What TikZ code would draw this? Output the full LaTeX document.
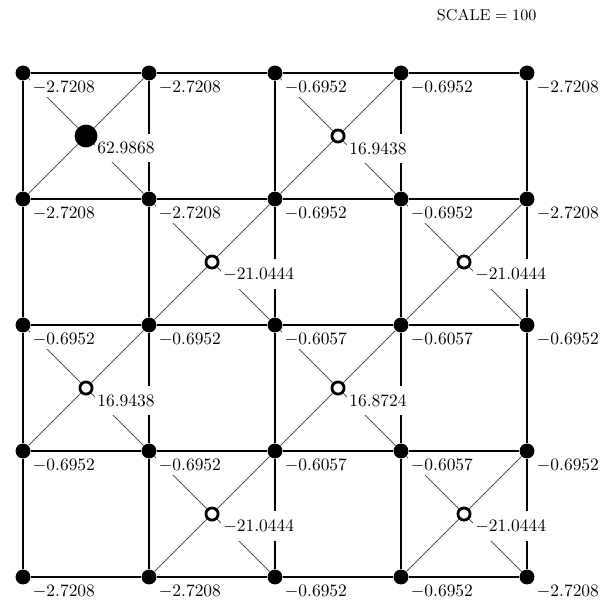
\documentclass[tikz,border=0pt]{standalone}
\usepackage{amsmath,amssymb}
\usepackage{xcolor}
\usepackage{tikz}
\usetikzlibrary{positioning}
\definecolor{DiagGray}{HTML}{5A5A5A}
\pgfdeclarelayer{bg}
\pgfdeclarelayer{fg}
\pgfsetlayers{bg,main,fg}

\begin{document}
\begin{tikzpicture}[
        x=2.54cm,y=2.54cm,
        every node/.style={font=\normalsize},
        dot/.style={circle,fill=black,inner sep=0pt,minimum size=3mm},
        bigdot/.style={circle,fill=black,inner sep=0pt,minimum size=4.6mm},
        hole/.style={circle,draw=black,fill=white,line width=1.6pt,inner sep=0pt,minimum size=2.45mm},
        val/.style={fill=white,inner sep=1.5pt},
        cval/.style={fill=white,inner xsep=1.5pt,inner ysep=5pt},
        edge/.style={line width=0.65pt,draw=black},
        diag/.style={line width=0.45pt,draw=DiagGray}
      ]
      \useasboundingbox (-0.1826,-0.1746) rectangle (4.7063,4.5795);

      \node[font=\small] (scale) at (3.68,4.46) {SCALE${}={}$100};

      % grid points and centres
      \begin{pgfonlayer}{fg}
      \node[dot] (v04) at (0,4) {};
      \node[dot] (v14) at (1,4) {};
      \node[dot] (v24) at (2,4) {};
      \node[dot] (v34) at (3,4) {};
      \node[dot] (v44) at (4,4) {};
      \node[dot] (v03) at (0,3) {};
      \node[dot] (v13) at (1,3) {};
      \node[dot] (v23) at (2,3) {};
      \node[dot] (v33) at (3,3) {};
      \node[dot] (v43) at (4,3) {};
      \node[dot] (v02) at (0,2) {};
      \node[dot] (v12) at (1,2) {};
      \node[dot] (v22) at (2,2) {};
      \node[dot] (v32) at (3,2) {};
      \node[dot] (v42) at (4,2) {};
      \node[dot] (v01) at (0,1) {};
      \node[dot] (v11) at (1,1) {};
      \node[dot] (v21) at (2,1) {};
      \node[dot] (v31) at (3,1) {};
      \node[dot] (v41) at (4,1) {};
      \node[dot] (v00) at (0,0) {};
      \node[dot] (v10) at (1,0) {};
      \node[dot] (v20) at (2,0) {};
      \node[dot] (v30) at (3,0) {};
      \node[dot] (v40) at (4,0) {};

      \node[bigdot] (c03) at (0.5,3.5) {};
      \node[hole] (c23) at (2.5,3.5) {};
      \node[hole] (c12) at (1.5,2.5) {};
      \node[hole] (c32) at (3.5,2.5) {};
      \node[hole] (c01) at (0.5,1.5) {};
      \node[hole] (c21) at (2.5,1.5) {};
      \node[hole] (c10) at (1.5,0.5) {};
      \node[hole] (c30) at (3.5,0.5) {};
      \end{pgfonlayer}

      % values at the grid points
      \node[val,below right=0.11cm and 0.14cm of v04.center] (l04) {$-2.7208$};
      \node[val,below right=0.11cm and 0.14cm of v14.center] (l14) {$-2.7208$};
      \node[val,below right=0.11cm and 0.14cm of v24.center] (l24) {$-0.6952$};
      \node[val,below right=0.11cm and 0.14cm of v34.center] (l34) {$-0.6952$};
      \node[val,below right=0.11cm and 0.14cm of v44.center] (l44) {$-2.7208$};
      \node[val,below right=0.11cm and 0.14cm of v03.center] (l03) {$-2.7208$};
      \node[val,below right=0.11cm and 0.14cm of v13.center] (l13) {$-2.7208$};
      \node[val,below right=0.11cm and 0.14cm of v23.center] (l23) {$-0.6952$};
      \node[val,below right=0.11cm and 0.14cm of v33.center] (l33) {$-0.6952$};
      \node[val,below right=0.11cm and 0.14cm of v43.center] (l43) {$-2.7208$};
      \node[val,below right=0.11cm and 0.14cm of v02.center] (l02) {$-0.6952$};
      \node[val,below right=0.11cm and 0.14cm of v12.center] (l12) {$-0.6952$};
      \node[val,below right=0.11cm and 0.14cm of v22.center] (l22) {$-0.6057$};
      \node[val,below right=0.11cm and 0.14cm of v32.center] (l32) {$-0.6057$};
      \node[val,below right=0.11cm and 0.14cm of v42.center] (l42) {$-0.6952$};
      \node[val,below right=0.11cm and 0.14cm of v01.center] (l01) {$-0.6952$};
      \node[val,below right=0.11cm and 0.14cm of v11.center] (l11) {$-0.6952$};
      \node[val,below right=0.11cm and 0.14cm of v21.center] (l21) {$-0.6057$};
      \node[val,below right=0.11cm and 0.14cm of v31.center] (l31) {$-0.6057$};
      \node[val,below right=0.11cm and 0.14cm of v41.center] (l41) {$-0.6952$};
      \node[val,below right=0.11cm and 0.14cm of v00.center] (l00) {$-2.7208$};
      \node[val,below right=0.11cm and 0.14cm of v10.center] (l10) {$-2.7208$};
      \node[val,below right=0.11cm and 0.14cm of v20.center] (l20) {$-0.6952$};
      \node[val,below right=0.11cm and 0.14cm of v30.center] (l30) {$-0.6952$};
      \node[val,below right=0.11cm and 0.14cm of v40.center] (l40) {$-2.7208$};

      % values at the centres
      \node[cval,below right=0.24cm and 0.17cm of c03.center,anchor=west] (k03) {$62.9868$};
      \node[cval,below right=0.25cm and 0.17cm of c23.center,anchor=west] (k23) {$16.9438$};
      \node[cval,below right=0.25cm and 0.17cm of c12.center,anchor=west] (k12) {$-21.0444$};
      \node[cval,below right=0.25cm and 0.17cm of c32.center,anchor=west] (k32) {$-21.0444$};
      \node[cval,below right=0.25cm and 0.17cm of c01.center,anchor=west] (k01) {$16.9438$};
      \node[cval,below right=0.25cm and 0.17cm of c21.center,anchor=west] (k21) {$16.8724$};
      \node[cval,below right=0.25cm and 0.17cm of c10.center,anchor=west] (k10) {$-21.0444$};
      \node[cval,below right=0.25cm and 0.17cm of c30.center,anchor=west] (k30) {$-21.0444$};

      \begin{pgfonlayer}{bg}
      % grid
      \draw[edge] (v04) -- (v14) -- (v24) -- (v34) -- (v44);
      \draw[edge] (v03) -- (v13) -- (v23) -- (v33) -- (v43);
      \draw[edge] (v02) -- (v12) -- (v22) -- (v32) -- (v42);
      \draw[edge] (v01) -- (v11) -- (v21) -- (v31) -- (v41);
      \draw[edge] (v00) -- (v10) -- (v20) -- (v30) -- (v40);
      \draw[edge] (v00) -- (v01) -- (v02) -- (v03) -- (v04);
      \draw[edge] (v10) -- (v11) -- (v12) -- (v13) -- (v14);
      \draw[edge] (v20) -- (v21) -- (v22) -- (v23) -- (v24);
      \draw[edge] (v30) -- (v31) -- (v32) -- (v33) -- (v34);
      \draw[edge] (v40) -- (v41) -- (v42) -- (v43) -- (v44);

      % crosses
      \draw[diag] (v03) -- (c03) -- (v14);
      \draw[diag] (v04) -- (c03) -- (v13);
      \draw[diag] (v23) -- (c23) -- (v34);
      \draw[diag] (v24) -- (c23) -- (v33);
      \draw[diag] (v12) -- (c12) -- (v23);
      \draw[diag] (v13) -- (c12) -- (v22);
      \draw[diag] (v32) -- (c32) -- (v43);
      \draw[diag] (v33) -- (c32) -- (v42);
      \draw[diag] (v01) -- (c01) -- (v12);
      \draw[diag] (v02) -- (c01) -- (v11);
      \draw[diag] (v21) -- (c21) -- (v32);
      \draw[diag] (v22) -- (c21) -- (v31);
      \draw[diag] (v10) -- (c10) -- (v21);
      \draw[diag] (v11) -- (c10) -- (v20);
      \draw[diag] (v30) -- (c30) -- (v41);
      \draw[diag] (v31) -- (c30) -- (v40);
      \end{pgfonlayer}
    \end{tikzpicture}
\end{document}
